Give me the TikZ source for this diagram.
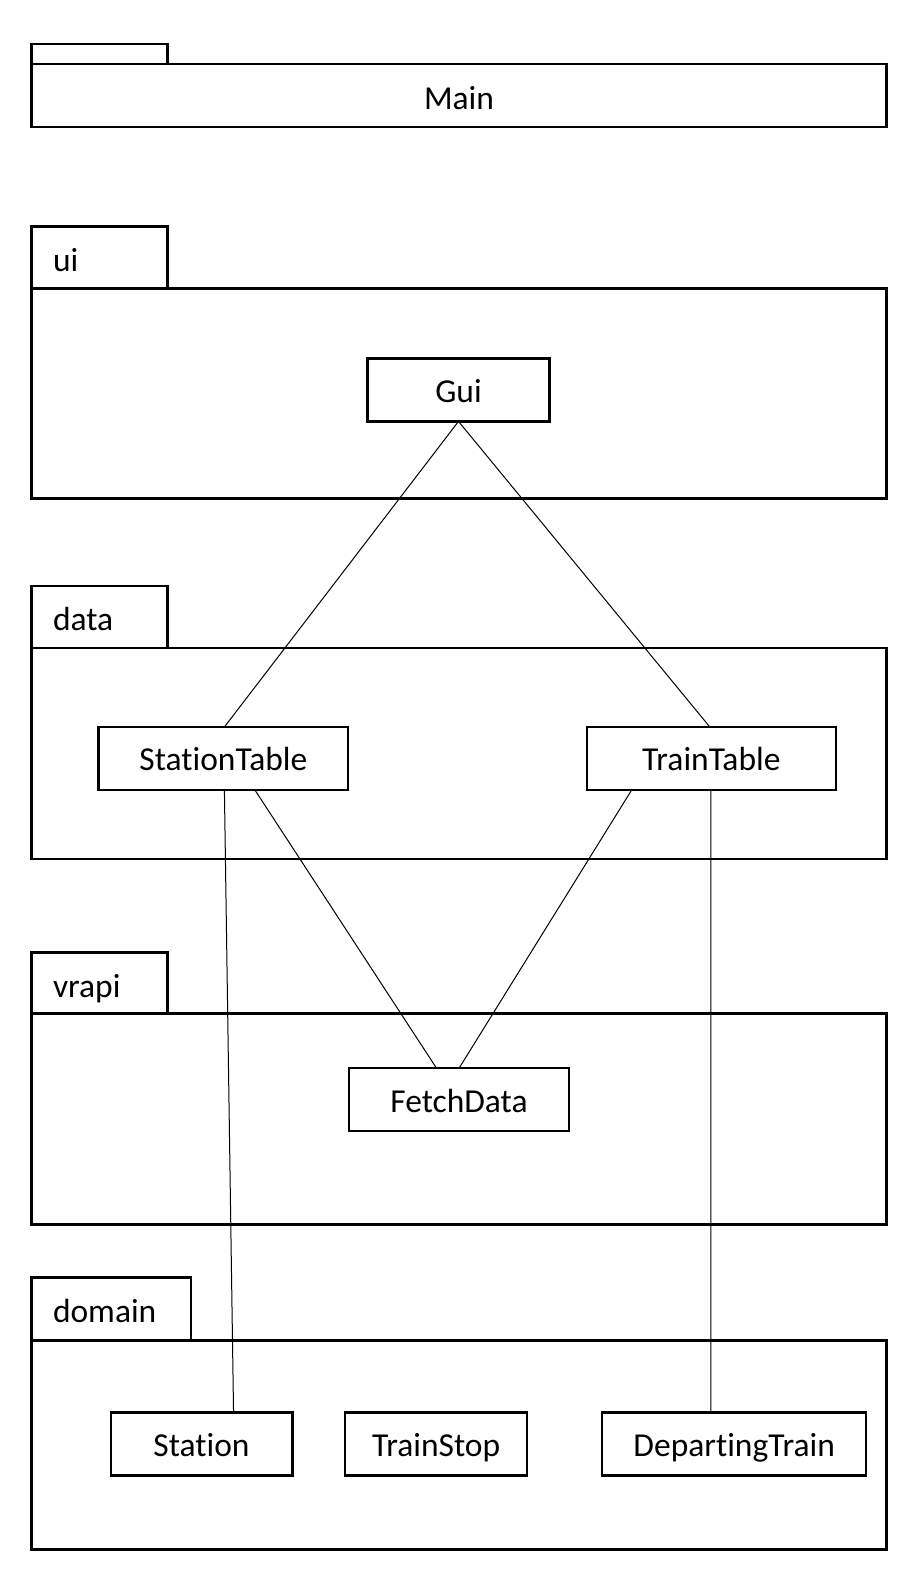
\documentclass[tikz,border=0pt]{standalone}
\usepackage{fontspec}
\setmainfont[RawFeature=-liga]{Carlito}
\begin{document}
\begin{tikzpicture}[x=1pt,y=-1pt,
  box/.style={draw, line width=2.3pt, rectangle, inner sep=0pt, outer sep=0pt, anchor=north west, text height=27pt, text depth=2.4pt, font=\fontsize{33.5}{40}\selectfont},
  lbl/.style={inner sep=0pt, anchor=base west, font=\fontsize{33.5}{40}\selectfont},
  link/.style={draw, line width=1pt}]
\useasboundingbox (0,0) rectangle (920,1592);
% Main package
\node[box, minimum width=136pt, minimum height=20.3pt, text height=0pt, text depth=0pt] (maintab) at (31.5,43.7) {};
\node[box, minimum width=855pt, minimum height=63pt, text height=29pt, text depth=0pt] (main) at (31.5,64) {Main};
% ui package
\node[box, minimum width=136pt, minimum height=62pt] (uitab) at (31.5,226.4) {};
\node[lbl] (uilbl) at (52.8,271) {ui};
\node[box, minimum width=855pt, minimum height=210.2pt] (ui) at (31.5,288.4) {};
\node[box, minimum width=181.8pt, minimum height=62.9pt] (gui) at (367.6,358.5) {Gui};
% data package
\node[box, minimum width=136pt, minimum height=61.9pt] (datatab) at (31.5,586) {};
\node[lbl] (datalbl) at (52.8,630.6) {data};
\node[box, minimum width=855pt, minimum height=211.1pt] (data) at (31.5,647.9) {};
\node[box, minimum width=249.8pt, minimum height=63pt] (st) at (98.5,727) {StationTable};
\node[box, minimum width=248.7pt, minimum height=63pt] (tt) at (587,727) {TrainTable};
% vrapi package
\node[box, minimum width=136pt, minimum height=60.9pt] (vrapitab) at (31.5,952.5) {};
\node[lbl] (vrapilbl) at (52.8,997) {vrapi};
\node[box, minimum width=855pt, minimum height=211.2pt] (vrapi) at (31.5,1013.4) {};
\node[box, minimum width=219.4pt, minimum height=62.9pt] (fd) at (349.3,1068.3) {FetchData};
% domain package
\node[box, minimum width=159.4pt, minimum height=63pt] (domaintab) at (31.5,1277.4) {};
\node[lbl] (domainlbl) at (52.8,1322) {domain};
\node[box, minimum width=855pt, minimum height=209.2pt] (domain) at (31.5,1340.4) {};
\node[box, minimum width=181.7pt, minimum height=62.9pt] (station) at (110.7,1412.5) {Station};
\node[box, minimum width=181.7pt, minimum height=62.9pt] (ts) at (345.3,1412.5) {TrainStop};
\node[box, minimum width=264pt, minimum height=62.9pt] (dt) at (602.2,1412.5) {DepartingTrain};
% connectors
\draw[link] (gui.south) -- ([xshift=1pt]st.north);
\draw[link] (gui.south) -- ([xshift=-1.5pt]tt.north);
\draw[link] ([xshift=31.5pt]st.south) -- ([xshift=-22.4pt]fd.north);
\draw[link] ([xshift=-79.7pt]tt.south) -- (fd.north);
\draw[link] ([xshift=1pt]st.south) -- ([xshift=32pt]station.north);
\draw[link] ([xshift=-0.5pt]tt.south) -- ([xshift=-23.4pt]dt.north);
\end{tikzpicture}
\end{document}
